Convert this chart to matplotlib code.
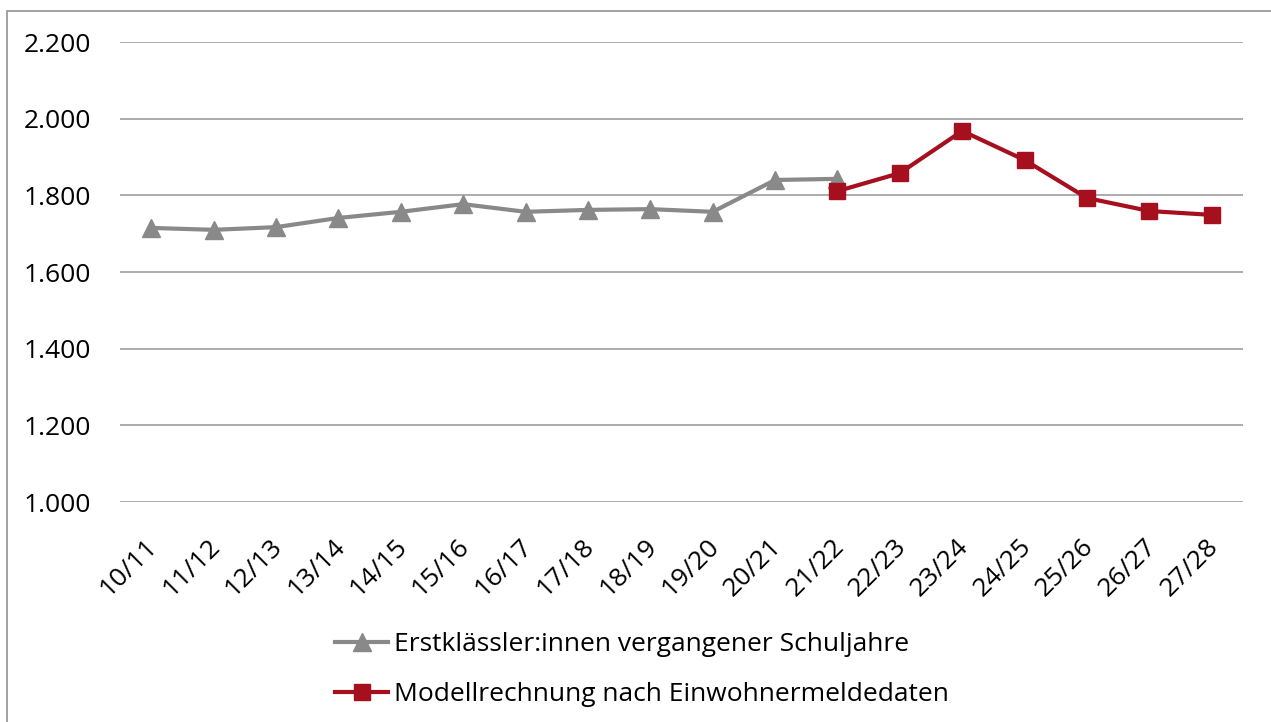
"""Erstklässler:innen: past school years and model projection."""
import matplotlib
matplotlib.use('Agg')
import matplotlib.pyplot as plt
from matplotlib.patches import Rectangle
from matplotlib.transforms import ScaledTranslation

years = ['10/11', '11/12', '12/13', '13/14', '14/15', '15/16', '16/17', '17/18', '18/19',
         '19/20', '20/21', '21/22', '22/23', '23/24', '24/25', '25/26', '26/27', '27/28']
past = [1715, 1710, 1717, 1741, 1757, 1777, 1757, 1762, 1764, 1757, 1840, 1843]
model = [1811, 1858, 1968, 1892, 1793, 1759, 1749]

label_past = 'Erstklässler:innen vergangener Schuljahre'
label_model = 'Modellrechnung nach Einwohnermeldedaten'

GREY = '#898989'
RED = '#A50F1E'
GRID = '#A6A6A6'

plt.rcParams['font.family'] = ['Open Sans', 'DejaVu Sans']
plt.rcParams['font.size'] = 19

fig = plt.figure(figsize=(12.71, 7.22), dpi=100)
ax = fig.add_axes([120 / 1271, 1 - 502 / 722, (1243 - 120) / 1271, 460 / 722])

x_past = list(range(len(past)))
x_model = list(range(len(years) - len(model), len(years)))

ax.plot(x_past, past, color=GREY, lw=3, marker='^', ms=13, label=label_past, zorder=3)
ax.plot(x_model, model, color=RED, lw=3, marker='s', ms=12, label=label_model, zorder=4)

ax.set_xlim(-0.5, len(years) - 0.5)
ax.set_ylim(1000, 2200)
ax.set_yticks(range(1000, 2201, 200))
ax.set_yticklabels([f'{v:,}'.replace(',', '.') for v in range(1000, 2201, 200)])
ax.set_xticks(range(len(years)))
ax.set_xticklabels(years, rotation=45, ha='right', rotation_mode='anchor')

ax.grid(axis='y', color=GRID, lw=1.3)
ax.set_axisbelow(True)
for s in ax.spines.values():
    s.set_visible(False)
ax.tick_params(axis='both', length=0, colors='black')
ax.tick_params(axis='y', pad=21)
ax.tick_params(axis='x', pad=14)

# nudge rotated labels so their ends sit under the ticks like in Excel
shift = ScaledTranslation(-6 / 100, -13 / 100, fig.dpi_scale_trans)
for lab in ax.get_xticklabels():
    lab.set_transform(lab.get_transform() + shift)

fig.legend(loc='upper center', bbox_to_anchor=(0.505, 0.143), ncol=1, frameon=False,
           handlelength=2.0, handletextpad=0.22, labelspacing=0.95, borderpad=0)

# outer chart border (right/bottom are outside the crop)
fig.patches.append(Rectangle((7 / 1271, -0.1), 1.2, 1 - 10.5 / 722 + 0.1,
                             transform=fig.transFigure, fill=False,
                             edgecolor='#9A9A9A', lw=1.3))

fig.savefig('out.png', dpi=100)
